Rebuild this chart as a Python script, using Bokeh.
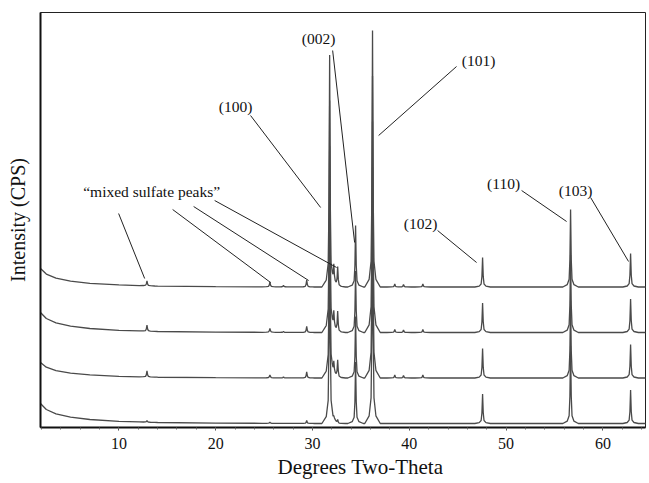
import numpy as np
from bokeh.plotting import figure
from bokeh.models import Range1d, SingleIntervalTicker, FixedTicker, Title
from bokeh.embed import file_html
from bokeh.resources import INLINE

# ---------------- data ----------------
# main (ZnO) reflections, degrees two-theta, and their heights in CPS
main_labels = ["(100)", "(002)", "(101)", "(102)", "(110)", "(103)"]
main_pos = [31.77, 34.45, 36.20, 47.57, 56.66, 62.86]
main_height = [2315, 615, 2565, 295, 775, 335]

# small "mixed sulfate" reflections
minor_pos = [12.9, 25.6, 27.0, 29.4, 32.2, 32.6, 38.5, 39.4, 41.4]
minor_h_trace1 = [15, 10, 0, 30, 20, 40, 0, 0, 0]          # bottom pattern
minor_h_trace2 = [60, 30, 10, 60, 110, 180, 30, 25, 30]
minor_h_trace3 = [60, 40, 10, 60, 160, 210, 30, 25, 30]
minor_h_trace4 = [50, 50, 15, 70, 170, 200, 30, 25, 30]   # top pattern

# stacking offsets (CPS) and low-angle background rise of each pattern
trace_offset = [40, 495, 950, 1405]
bg_start = [200, 155, 200, 185]
bg_x = [1.9, 2.5, 3.5, 5.0, 7.0, 10.0, 14.0, 20.0, 30.0, 64.5]
bg_rel = [1.0, 0.70, 0.48, 0.32, 0.20, 0.11, 0.05, 0.02, 0.0, 0.0]

# peak profile sample points (offset in degrees, fraction of height)
prof_dx = [-0.8, -0.35, -0.15, -0.07, 0.0, 0.07, 0.15, 0.35, 0.8]
prof_f = [0.0, 0.03, 0.10, 0.35, 1.0, 0.35, 0.10, 0.03, 0.0]

x_title = "Degrees Two-Theta"
y_title = "Intensity (CPS)"

# ---------------- figure ----------------
FONT = "Liberation Serif"
p = figure(width=649, height=483, output_backend="svg", toolbar_location=None,
           x_range=Range1d(1.9, 64.4), y_range=Range1d(0, 4150),
           min_border_left=40, min_border_right=4, min_border_top=12, min_border_bottom=56)
p.grid.visible = False
p.outline_line_color = "#222222"
p.outline_line_width = 1
p.background_fill_color = "white"
p.border_fill_color = "white"

minor_all = [minor_h_trace1, minor_h_trace2, minor_h_trace3, minor_h_trace4]
for i in range(4):
    xs = list(bg_x)
    for c in main_pos + minor_pos:
        xs += [c + d for d in prof_dx]
    xs = np.array(sorted(set(round(v, 4) for v in xs)))
    xs = xs[(xs >= 1.9) & (xs <= 64.5)]
    ys = trace_offset[i] + bg_start[i] * np.interp(xs, bg_x, bg_rel)
    for c, h in zip(main_pos, main_height):
        ys = ys + h * np.interp(xs - c, prof_dx, prof_f, left=0, right=0)
    for c, h in zip(minor_pos, minor_all[i]):
        ys = ys + h * np.interp(xs - c, prof_dx, prof_f, left=0, right=0)
    p.line(xs, ys, line_color="#4a4a4a", line_width=1.3)

# annotations: label centres and leader lines (data units)
ann_text = main_labels + ["\u201cmixed sulfate peaks\u201d"]
ann_x = [22.06, 30.63, 47.16, 41.17, 49.74, 57.18, 13.38]
ann_y = [3210, 3890, 3670, 2040, 2440, 2370, 2360]
p.text(x=ann_x, y=ann_y, text=ann_text, text_align="center", text_baseline="middle",
       text_font={"value": FONT}, text_font_size="15.5px", text_color="#111111")

lead_x0 = [23.6, 32.08, 44.88, 42.92, 51.6, 58.73, 9.97, 15.55, 17.72, 19.89]
lead_y0 = [3120, 3770, 3610, 1970, 2370, 2300, 2140, 2180, 2210, 2270]
lead_x1 = [30.84, 34.35, 36.83, 46.95, 56.25, 62.65, 12.66, 25.67, 29.6, 32.49]
lead_y1 = [2200, 1850, 2920, 1650, 2060, 1660, 1490, 1450, 1470, 1600]
p.segment(x0=lead_x0, y0=lead_y0, x1=lead_x1, y1=lead_y1, line_color="#222222", line_width=1)

# axes
xa = p.xaxis[0]
xa.ticker = SingleIntervalTicker(interval=10, num_minor_ticks=5)
xa.major_label_text_font = FONT
xa.major_label_text_font_size = "16px"
xa.major_label_text_color = "#111111"
xa.major_label_standoff = 7
xa.axis_line_color = "#111111"
xa.axis_line_width = 2
xa.major_tick_line_color = "#444444"
xa.major_tick_in = 0
xa.major_tick_out = 3
xa.minor_tick_line_color = "#666666"
xa.minor_tick_in = 0
xa.minor_tick_out = 2

# x axis title below the axis, shifted right of centre as in the original
p.add_layout(Title(text=x_title, align="left", offset=237, standoff=3,
                   text_font=FONT, text_font_size="21px", text_font_style="normal",
                   text_color="#111111"), "below")

ya = p.yaxis[0]
ya.ticker = FixedTicker(ticks=[])
ya.axis_label = y_title
ya.axis_label_text_font = FONT
ya.axis_label_text_font_size = "20px"
ya.axis_label_text_font_style = "normal"
ya.axis_label_text_color = "#111111"
ya.axis_label_standoff = 12
ya.major_label_text_font_size = "0px"
ya.major_label_standoff = 0
ya.major_tick_line_color = None
ya.minor_tick_line_color = None
ya.axis_line_color = "#111111"
ya.axis_line_width = 2

open("out.html", "w").write(file_html(p, INLINE))
